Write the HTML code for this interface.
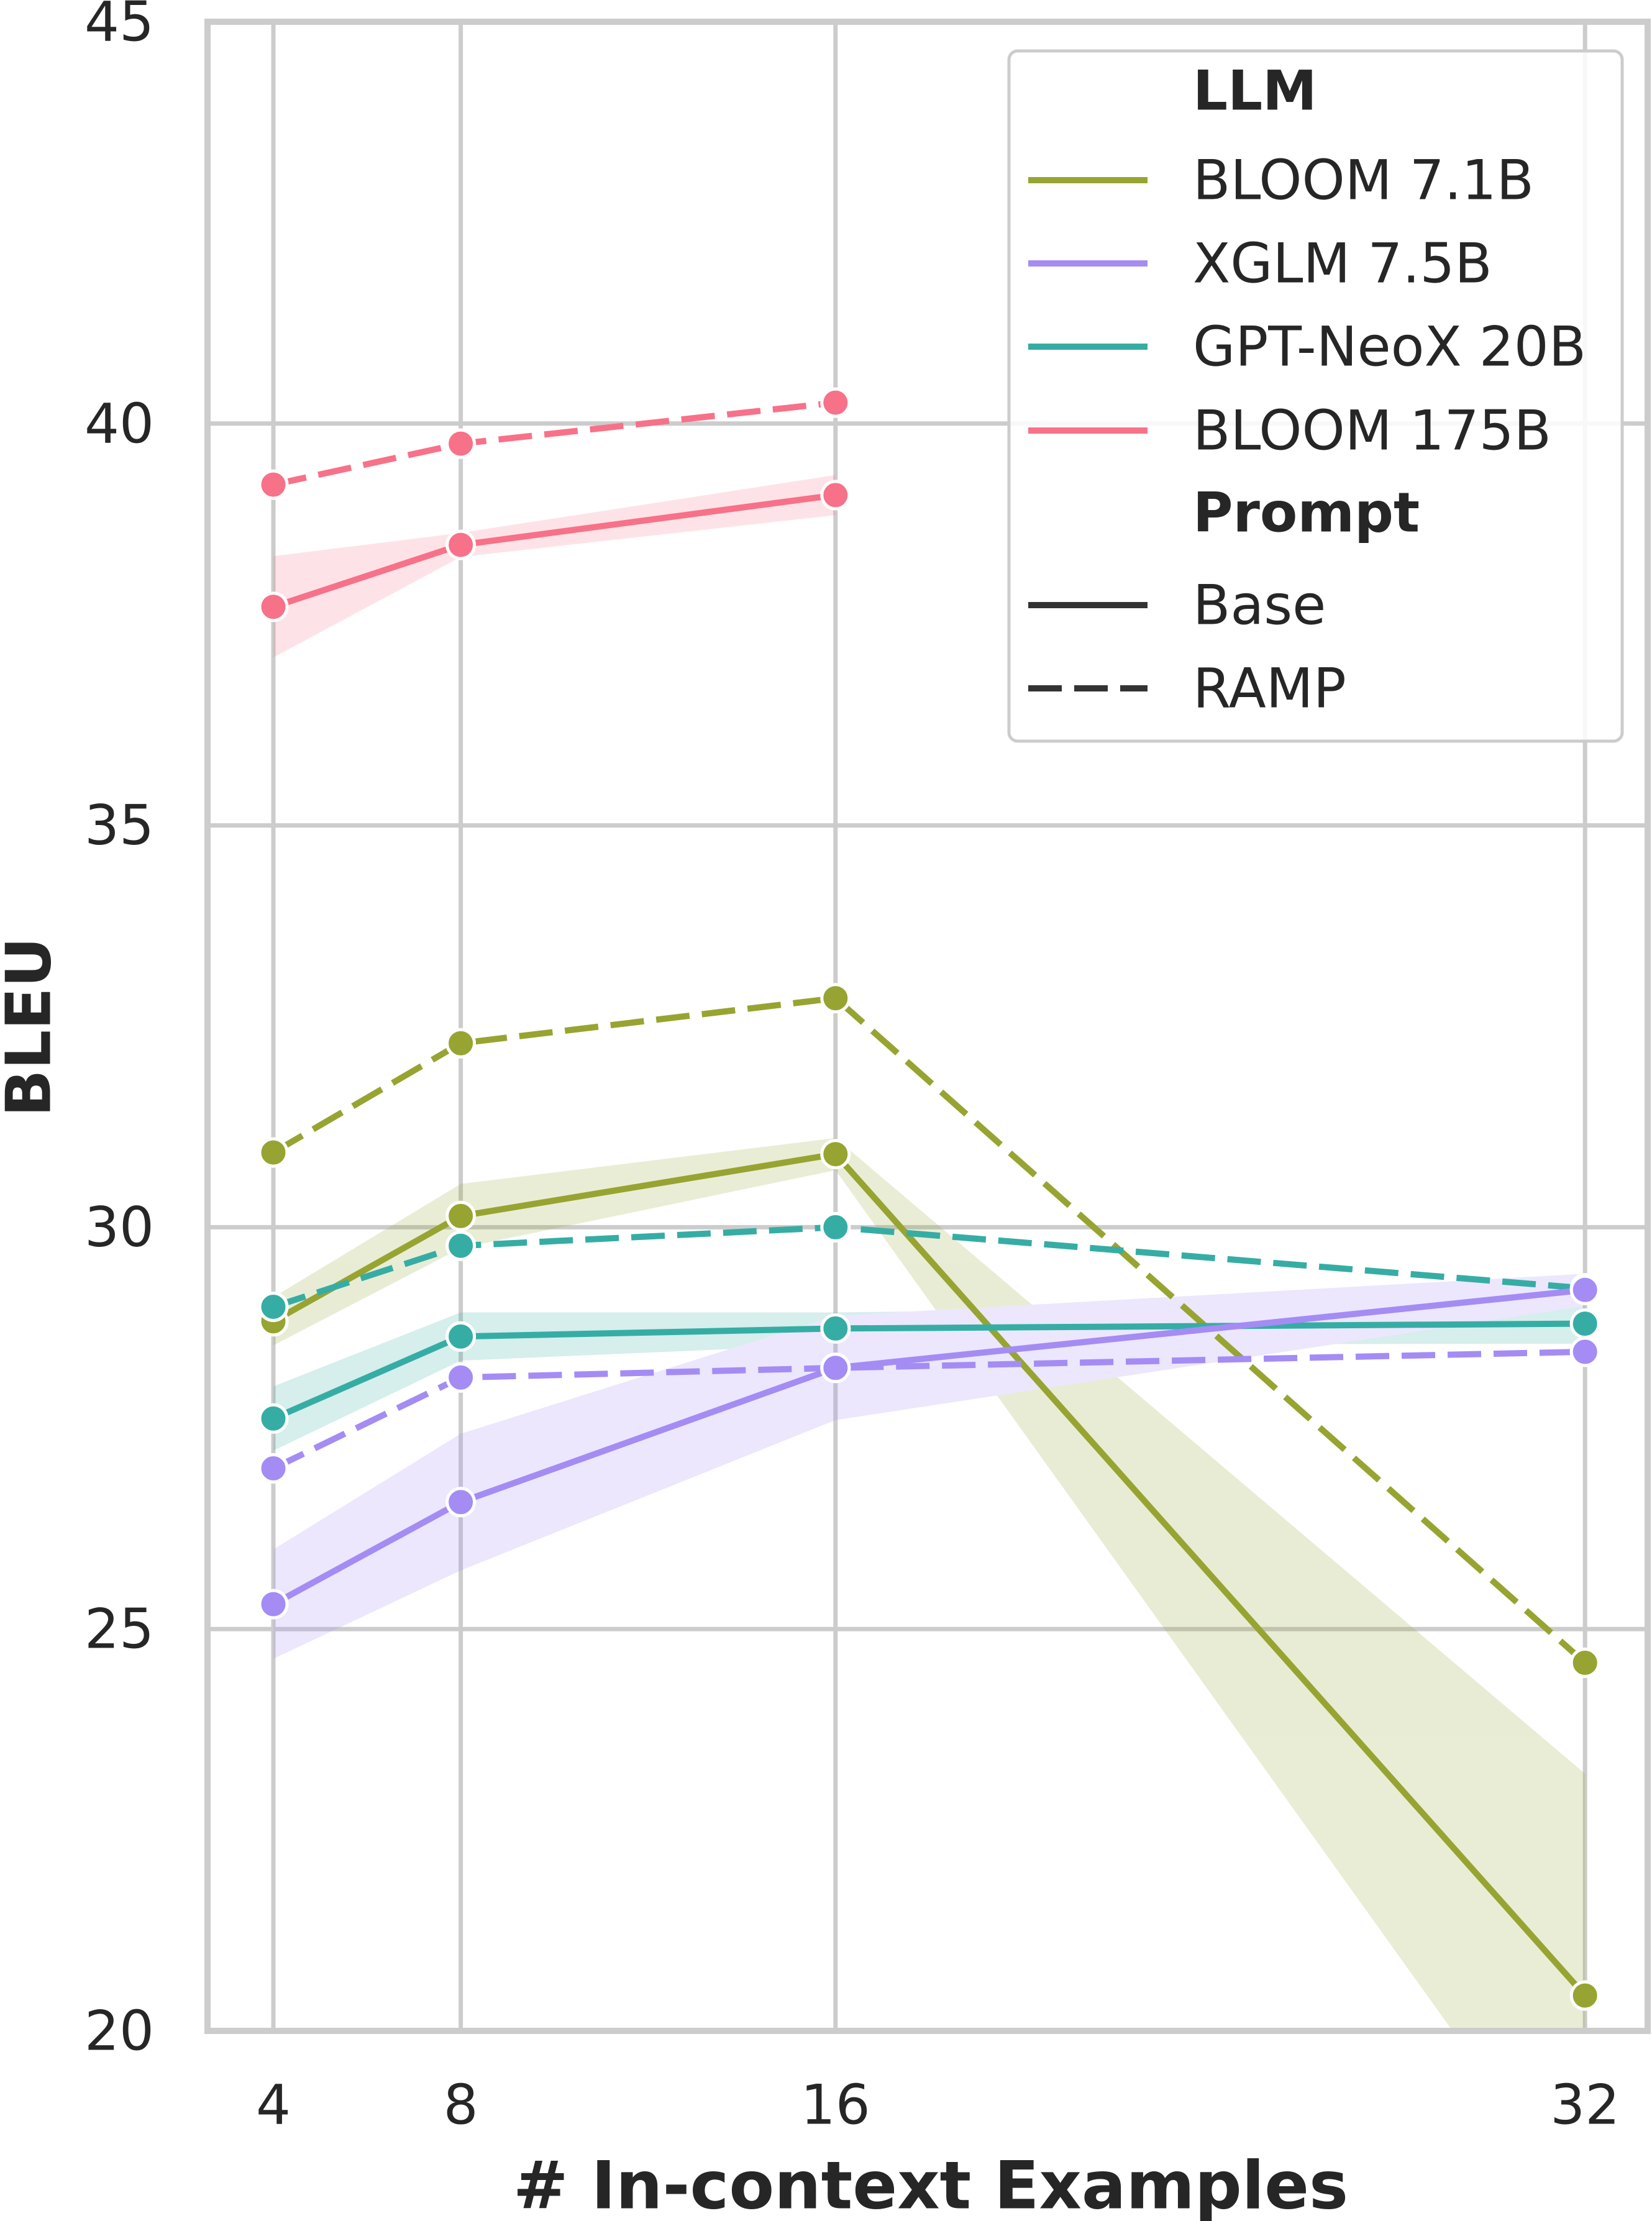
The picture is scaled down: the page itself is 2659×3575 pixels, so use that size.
<!DOCTYPE html>
<html><head><meta charset="utf-8"><style>
html,body{margin:0;padding:0;background:#fff}
svg{display:block}
text{font-family:"DejaVu Sans","Liberation Sans",sans-serif;fill:#262626}
</style></head><body>
<svg width="2659" height="3575" viewBox="0 0 2659 3575" xmlns="http://www.w3.org/2000/svg">
<defs><clipPath id="c"><rect x="334" y="35" width="2318" height="3234"/></clipPath></defs>
<g stroke="#cccccc" stroke-width="7">
<line x1="334" x2="2652" y1="2622.2" y2="2622.2"/>
<line x1="334" x2="2652" y1="1975.4" y2="1975.4"/>
<line x1="334" x2="2652" y1="1328.6" y2="1328.6"/>
<line x1="334" x2="2652" y1="681.8" y2="681.8"/>
<line x1="440" x2="440" y1="35" y2="3269"/>
<line x1="741.6" x2="741.6" y1="35" y2="3269"/>
<line x1="1344.8" x2="1344.8" y1="35" y2="3269"/>
<line x1="2551.2" x2="2551.2" y1="35" y2="3269"/>
</g>
<g clip-path="url(#c)" opacity="0.2">
<polygon fill="#f77189" points="440,895.2 741.6,857.7 1344.8,764.6 1344.8,829.2 741.6,896.5 440,1058.2"/>
<polygon fill="#97a431" points="440,2088 741.6,1905.6 1344.8,1831.8 2551.2,2855 2551.2,3566.5 1344.8,1883.6 741.6,2009 440,2165.6"/>
<polygon fill="#36ada4" points="440,2231.6 741.6,2112.5 1344.8,2112.5 2551.2,2098.3 2551.2,2162.9 1344.8,2164.3 741.6,2190.1 440,2335"/>
<polygon fill="#a48cf4" points="440,2494 741.6,2307.8 1344.8,2117.8 2551.2,2050.3 2551.2,2102.3 1344.8,2285.8 741.6,2527.8 440,2670"/>
</g>
<g fill="none" stroke-width="10" clip-path="url(#c)">
<polyline stroke="#f77189" stroke-dasharray="54,20" points="440,780.1 741.6,714.1 1344.8,648.1"/>
<polyline stroke="#f77189" points="440,976.7 741.6,877.1 1344.8,796.9"/>
<polyline stroke="#97a431" stroke-dasharray="54,20" points="440,1855.1 741.6,1679.2 1344.8,1606.7 2551.2,2676.5"/>
<polyline stroke="#97a431" points="440,2126.8 741.6,1957.3 1344.8,1857.7 2551.2,3212.1"/>
<polyline stroke="#36ada4" stroke-dasharray="54,20" points="440,2103.5 741.6,2005.2 1344.8,1975.4 2551.2,2073.7"/>
<polyline stroke="#36ada4" points="440,2283.3 741.6,2151.3 1344.8,2138.4 2551.2,2130.6"/>
<polyline stroke="#a48cf4" stroke-dasharray="54,20" points="440,2363.5 741.6,2217.3 1344.8,2201.8 2551.2,2175.9"/>
<polyline stroke="#a48cf4" points="440,2582.1 741.6,2417.8 1344.8,2201.8 2551.2,2076.3"/>
</g>
<g stroke="#fff" stroke-width="5">
<g fill="#f77189"><circle cx="440" cy="780.1" r="22"/><circle cx="741.6" cy="714.1" r="22"/><circle cx="1344.8" cy="648.1" r="22"/>
<circle cx="440" cy="976.7" r="22"/><circle cx="741.6" cy="877.1" r="22"/><circle cx="1344.8" cy="796.9" r="22"/></g>
<g fill="#97a431"><circle cx="440" cy="1855.1" r="22"/><circle cx="741.6" cy="1679.2" r="22"/><circle cx="1344.8" cy="1606.7" r="22"/><circle cx="2551.2" cy="2676.5" r="22"/>
<circle cx="440" cy="2126.8" r="22"/><circle cx="741.6" cy="1957.3" r="22"/><circle cx="1344.8" cy="1857.7" r="22"/><circle cx="2551.2" cy="3212.1" r="22"/></g>
<g fill="#36ada4"><circle cx="440" cy="2103.5" r="22"/><circle cx="741.6" cy="2005.2" r="22"/><circle cx="1344.8" cy="1975.4" r="22"/><circle cx="2551.2" cy="2073.7" r="22"/>
<circle cx="440" cy="2283.3" r="22"/><circle cx="741.6" cy="2151.3" r="22"/><circle cx="1344.8" cy="2138.4" r="22"/><circle cx="2551.2" cy="2130.6" r="22"/></g>
<g fill="#a48cf4"><circle cx="440" cy="2363.5" r="22"/><circle cx="741.6" cy="2217.3" r="22"/><circle cx="1344.8" cy="2201.8" r="22"/><circle cx="2551.2" cy="2175.9" r="22"/>
<circle cx="440" cy="2582.1" r="22"/><circle cx="741.6" cy="2417.8" r="22"/><circle cx="1344.8" cy="2201.8" r="22"/><circle cx="2551.2" cy="2076.3" r="22"/></g>
</g>
<rect x="334" y="35" width="2318" height="3234" fill="none" stroke="#cccccc" stroke-width="10"/>
<g font-size="88" text-anchor="end" dominant-baseline="central">
<text x="248" y="3269">20</text><text x="248" y="2622.2">25</text><text x="248" y="1975.4">30</text>
<text x="248" y="1328.6">35</text><text x="248" y="681.8">40</text><text x="248" y="35">45</text>
</g>
<g font-size="88" text-anchor="middle" dominant-baseline="central">
<text x="440" y="3388">4</text><text x="741.6" y="3388">8</text><text x="1344.8" y="3388">16</text><text x="2551.2" y="3388">32</text>
</g>
<text x="1498" y="3518" font-size="106" font-weight="bold" text-anchor="middle" dominant-baseline="central">#&#160;In-context Examples</text>
<text x="46" y="1653" font-size="100" font-weight="bold" text-anchor="middle" dominant-baseline="central" transform="rotate(-90 46 1653)">BLEU</text>
<rect x="1624" y="82" width="987" height="1111" rx="14" fill="#fff" fill-opacity="0.85" stroke="#cccccc" stroke-width="5"/>
<g font-size="88" dominant-baseline="central">
<text x="1920" y="146" font-weight="bold">LLM</text>
<text x="1920" y="290">BLOOM 7.1B</text>
<text x="1920" y="424">XGLM 7.5B</text>
<text x="1920" y="558">GPT-NeoX 20B</text>
<text x="1920" y="693">BLOOM 175B</text>
<text x="1920" y="825" font-weight="bold">Prompt</text>
<text x="1920" y="974">Base</text>
<text x="1920" y="1108">RAMP</text>
</g>
<g stroke-width="10">
<line x1="1655" x2="1847" y1="290" y2="290" stroke="#97a431"/>
<line x1="1655" x2="1847" y1="424" y2="424" stroke="#a48cf4"/>
<line x1="1655" x2="1847" y1="558" y2="558" stroke="#36ada4"/>
<line x1="1655" x2="1847" y1="693" y2="693" stroke="#f77189"/>
<line x1="1655" x2="1847" y1="974" y2="974" stroke="#333"/>
<line x1="1655" x2="1847" y1="1108" y2="1108" stroke="#333" stroke-dasharray="54,20"/>
</g>
</svg>
</body></html>
